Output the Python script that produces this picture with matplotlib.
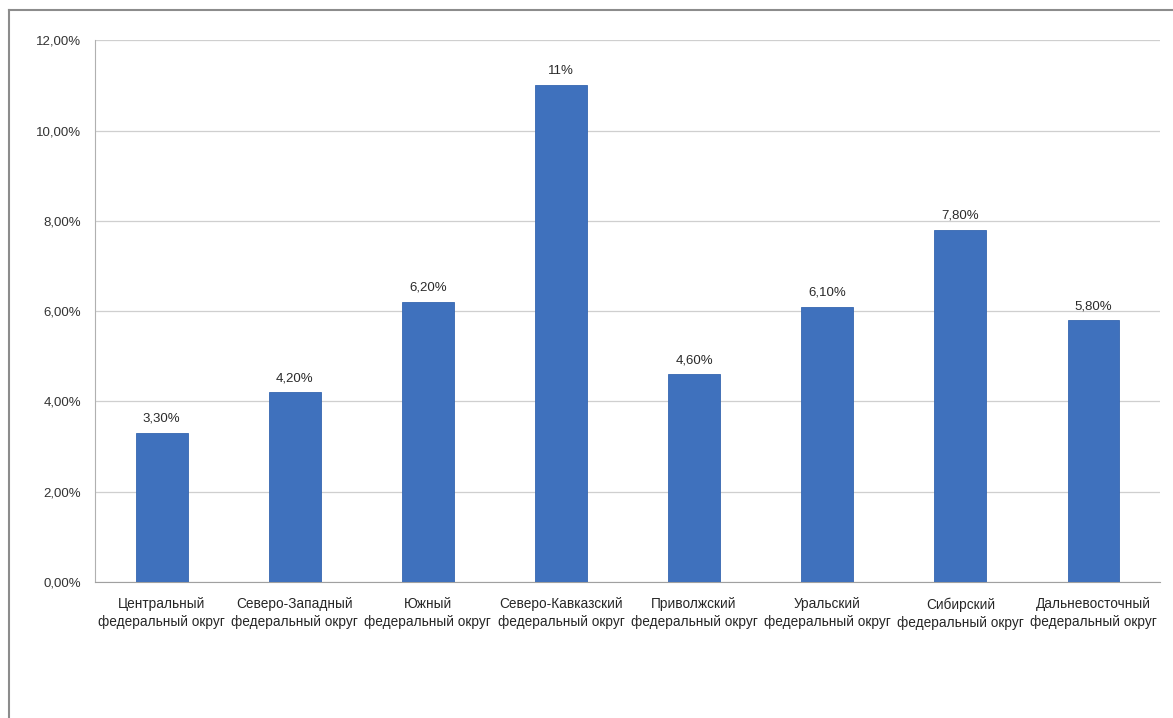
import matplotlib
matplotlib.use("Agg")
import matplotlib.pyplot as plt
from matplotlib.lines import Line2D

districts = [
    "Центральный\nфедеральный округ",
    "Северо-Западный\nфедеральный округ",
    "Южный\nфедеральный округ",
    "Северо-Кавказский\nфедеральный округ",
    "Приволжский\nфедеральный округ",
    "Уральский\nфедеральный округ",
    "Сибирский\nфедеральный округ",
    "Дальневосточный\nфедеральный округ",
]
values = [3.3, 4.2, 6.2, 11.0, 4.6, 6.1, 7.8, 5.8]
value_labels = ["3,30%", "4,20%", "6,20%", "11%", "4,60%", "6,10%", "7,80%", "5,80%"]
yticks = [0, 2, 4, 6, 8, 10, 12]
ytick_labels = ["0,00%", "2,00%", "4,00%", "6,00%", "8,00%", "10,00%", "12,00%"]

plt.rcParams['font.family'] = ['Liberation Sans Narrow', 'Liberation Sans', 'DejaVu Sans']

fig = plt.figure(figsize=(11.73, 7.18), dpi=100)
ax = fig.add_axes([0.081, 0.1894, 0.908, 0.7546])

x = range(len(values))
bar_color = "#3f71bd"
ax.bar(x, values, width=0.39, color=bar_color, edgecolor="#3566b0", linewidth=0.6, zorder=3)

for xi, v, lab in zip(x, values, value_labels):
    ax.text(xi, v + 0.18, lab, ha="center", va="bottom", fontsize=9.5, color="#2a2a2a")

ax.set_xlim(-0.5, len(values) - 0.5)
ax.set_ylim(0, 12)
ax.set_yticks(yticks)
ax.set_yticklabels(ytick_labels, fontsize=9.5, color="#333333")
ax.set_xticks(list(x))
ax.set_xticklabels(districts, fontsize=9.8, color="#262626", linespacing=1.35)
ax.tick_params(axis="y", length=0, pad=10)
ax.tick_params(axis="x", length=0, pad=11)

ax.grid(axis="y", color="#cfcfcf", linewidth=0.9, zorder=0)
for s in ["top", "right"]:
    ax.spines[s].set_visible(False)
ax.spines["left"].set_color("#b0b0b0")
ax.spines["bottom"].set_color("#a0a0a0")

# outer frame (top and left edges visible in the reference)
fig.add_artist(Line2D([9 / 1173, 1], [1 - 10 / 718, 1 - 10 / 718], color="#8c8c8c", linewidth=1.5))
fig.add_artist(Line2D([9 / 1173, 9 / 1173], [0, 1 - 10 / 718], color="#8c8c8c", linewidth=1.5))

fig.savefig("out.png", dpi=100)
